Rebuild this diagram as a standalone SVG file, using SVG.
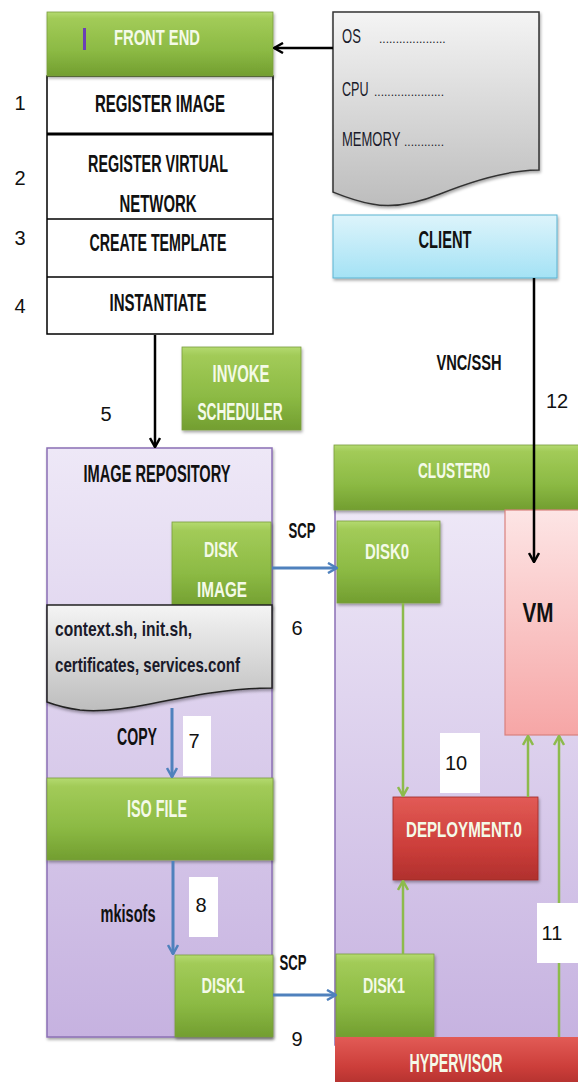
<svg xmlns="http://www.w3.org/2000/svg" width="578" height="1082" viewBox="0 0 578 1082">
  <style>
    .lbl { font-family: "Liberation Sans", Arial, sans-serif; font-weight: bold; text-anchor: middle; fill: #111; }
    .wt { font-family: "Liberation Sans", Arial, sans-serif; font-weight: bold; text-anchor: middle; fill: #F4FAE8; }
    .num { font-family: "Liberation Sans", Arial, sans-serif; font-size: 20px; text-anchor: middle; fill: #111; }
    .doc { font-family: "Liberation Sans", Arial, sans-serif; fill: #1a1a2a; font-size: 21px; }
    .dots { font-family: "Liberation Sans", Arial, sans-serif; fill: #1a1a2a; font-size: 12px; }
    .green { fill: url(#gGreen); stroke: #7A9E3E; stroke-width: 0.8; filter: url(#sh); }
    .red { fill: url(#gRed); stroke: #9E2B28; stroke-width: 0.8; filter: url(#sh); }
    .blk { stroke: #000; stroke-width: 2.5; fill: none; marker-end: url(#aBlack); }
    .blu { stroke: #4F81BD; stroke-width: 3; fill: none; marker-end: url(#aBlue); }
    .grn { stroke: #8DBB4C; stroke-width: 2.5; fill: none; marker-end: url(#aGreen); }
    .tag { fill: #fff; }
  </style>
  <defs>
    <linearGradient id="gGreen" x1="0" y1="0" x2="0" y2="1">
      <stop offset="0" stop-color="#B4DA70"/>
      <stop offset="0.1" stop-color="#A2CB58"/>
      <stop offset="0.6" stop-color="#8CBA44"/>
      <stop offset="1" stop-color="#729E30"/>
    </linearGradient>
    <linearGradient id="gRed" x1="0" y1="0" x2="0" y2="1">
      <stop offset="0" stop-color="#E25B56"/>
      <stop offset="0.6" stop-color="#CC3E3A"/>
      <stop offset="1" stop-color="#B0302D"/>
    </linearGradient>
    <linearGradient id="gPurple" x1="0" y1="0" x2="0" y2="1">
      <stop offset="0" stop-color="#EEE8F7"/>
      <stop offset="1" stop-color="#C6B2E0"/>
    </linearGradient>
    <linearGradient id="gPink" x1="0" y1="0" x2="0" y2="1">
      <stop offset="0" stop-color="#FDE5E5"/>
      <stop offset="1" stop-color="#F6A6A6"/>
    </linearGradient>
    <linearGradient id="gCyan" x1="0" y1="0" x2="0" y2="1">
      <stop offset="0" stop-color="#DDF4FB"/>
      <stop offset="1" stop-color="#A4E2F5"/>
    </linearGradient>
    <linearGradient id="gGrey" x1="0" y1="0" x2="0" y2="1">
      <stop offset="0" stop-color="#F4F4F4"/>
      <stop offset="1" stop-color="#BDBDBD"/>
    </linearGradient>
    <filter id="sh" x="-10%" y="-10%" width="130%" height="140%">
      <feDropShadow dx="1" dy="2" stdDeviation="1.5" flood-opacity="0.35"/>
    </filter>
    <marker id="aBlack" viewBox="0 0 12 12" refX="11" refY="6" markerWidth="12" markerHeight="12" markerUnits="userSpaceOnUse" orient="auto">
      <path d="M2,1 L11,6 L2,11" fill="none" stroke="#000" stroke-width="2.5"/>
    </marker>
    <marker id="aBlue" viewBox="0 0 12 12" refX="11" refY="6" markerWidth="12" markerHeight="12" markerUnits="userSpaceOnUse" orient="auto">
      <path d="M2,1 L11,6 L2,11" fill="none" stroke="#4F81BD" stroke-width="2.5"/>
    </marker>
    <marker id="aGreen" viewBox="0 0 12 12" refX="11" refY="6" markerWidth="12" markerHeight="12" markerUnits="userSpaceOnUse" orient="auto">
      <path d="M2,1 L11,6 L2,11" fill="none" stroke="#8DBB4C" stroke-width="2.5"/>
    </marker>
  </defs>

  <rect width="578" height="1082" fill="#fff"/>

  <!-- front end with its four steps -->
  <g id="front-end">
    <rect x="47" y="76" width="226" height="258" fill="#fff" stroke="#000" stroke-width="1.5"/>
    <line x1="47" y1="134" x2="273" y2="134" stroke="#000" stroke-width="3"/>
    <line x1="47" y1="219" x2="273" y2="219" stroke="#000" stroke-width="1.5"/>
    <line x1="47" y1="277" x2="273" y2="277" stroke="#000" stroke-width="1.5"/>
    <rect class="green" x="47" y="12" width="226" height="64"/>
    <rect x="83" y="28" width="3" height="22" fill="#6B3FB5"/>
    <text class="wt" x="157" y="45" font-size="22" textLength="86" lengthAdjust="spacingAndGlyphs">FRONT END</text>
    <text class="lbl" x="160" y="112" font-size="24" textLength="130" lengthAdjust="spacingAndGlyphs">REGISTER IMAGE</text>
    <text class="lbl" x="158" y="172" font-size="24" textLength="140" lengthAdjust="spacingAndGlyphs">REGISTER VIRTUAL</text>
    <text class="lbl" x="158" y="212" font-size="24" textLength="77" lengthAdjust="spacingAndGlyphs">NETWORK</text>
    <text class="lbl" x="158" y="251" font-size="24" textLength="137" lengthAdjust="spacingAndGlyphs">CREATE TEMPLATE</text>
    <text class="lbl" x="158" y="311" font-size="24" textLength="97" lengthAdjust="spacingAndGlyphs">INSTANTIATE</text>
    <text class="num" x="20" y="110">1</text>
    <text class="num" x="20" y="185">2</text>
    <text class="num" x="20" y="245">3</text>
    <text class="num" x="20" y="313">4</text>
  </g>

  <!-- template document: narrow field names followed by dotted fill-in lines -->
  <g id="template-doc">
    <path d="M333,12 H539 V170 C505,170 470,182 440,194 C415,204 392,208 372,204 C355,201 343,196 333,192 Z" fill="url(#gGrey)" stroke="#333" stroke-width="1.5" filter="url(#sh)"/>
    <text class="doc" transform="translate(342,43) scale(0.62,1)">OS</text>
    <text class="dots" x="379" y="43">....................</text>
    <text class="doc" transform="translate(342,96) scale(0.6,1)">CPU</text>
    <text class="dots" x="374" y="96">.....................</text>
    <text class="doc" transform="translate(342,146) scale(0.62,1)">MEMORY</text>
    <text class="dots" x="404" y="146">............</text>
  </g>

  <!-- client -->
  <g id="client">
    <rect x="333" y="215" width="224" height="63" fill="url(#gCyan)" stroke="#5BB3D2" stroke-width="1" filter="url(#sh)"/>
    <text class="lbl" x="445" y="248" font-size="24" textLength="53" lengthAdjust="spacingAndGlyphs">CLIENT</text>
  </g>

  <!-- scheduler -->
  <g id="invoke-scheduler">
    <rect class="green" x="182" y="347" width="119" height="83"/>
    <text class="wt" x="241" y="382" font-size="24" textLength="57" lengthAdjust="spacingAndGlyphs">INVOKE</text>
    <text class="wt" x="240" y="420" font-size="24" textLength="85" lengthAdjust="spacingAndGlyphs">SCHEDULER</text>
  </g>

  <!-- image repository -->
  <g id="image-repository">
    <rect x="47" y="448" width="225" height="589" fill="url(#gPurple)" stroke="#8B6FB5" stroke-width="1.5" filter="url(#sh)"/>
    <text class="lbl" x="157" y="482" font-size="24" textLength="147" lengthAdjust="spacingAndGlyphs">IMAGE REPOSITORY</text>
  </g>
  <g id="disk-image">
    <rect class="green" x="172" y="522" width="99" height="86"/>
    <text class="wt" x="221" y="557" font-size="22" textLength="34" lengthAdjust="spacingAndGlyphs">DISK</text>
    <text class="wt" x="222" y="597" font-size="22" textLength="50" lengthAdjust="spacingAndGlyphs">IMAGE</text>
  </g>
  <g id="context-files">
    <path d="M47,605 H272 V688 C230,688 190,696 150,704 C125,709 100,712 80,710 C65,708 55,705 47,702 Z" fill="url(#gGrey)" stroke="#222" stroke-width="1.5" filter="url(#sh)"/>
    <text class="doc" x="55" y="636" font-size="22" font-weight="bold" textLength="137" lengthAdjust="spacingAndGlyphs">context.sh, init.sh,</text>
    <text class="doc" x="55" y="672" font-size="22" font-weight="bold" textLength="185" lengthAdjust="spacingAndGlyphs">certificates, services.conf</text>
  </g>
  <g id="iso-file">
    <rect class="green" x="47" y="778" width="226" height="82"/>
    <text class="wt" x="157" y="817" font-size="24" textLength="60" lengthAdjust="spacingAndGlyphs">ISO FILE</text>
  </g>
  <g id="disk1-repo">
    <rect class="green" x="175" y="955" width="98" height="82"/>
    <text class="wt" x="223" y="993" font-size="22" textLength="43" lengthAdjust="spacingAndGlyphs">DISK1</text>
  </g>

  <!-- cluster -->
  <g id="cluster0">
    <rect x="335" y="505" width="250" height="540" fill="url(#gPurple)" stroke="#8B6FB5" stroke-width="1.5"/>
    <rect class="green" x="334" y="445" width="250" height="65"/>
    <text class="wt" x="454" y="478" font-size="22" textLength="72" lengthAdjust="spacingAndGlyphs">CLUSTER0</text>
  </g>
  <g id="vm">
    <rect x="505" y="510" width="80" height="225" fill="url(#gPink)" stroke="#D9807D" stroke-width="1.2"/>
    <text class="lbl" x="538" y="622" font-size="27" textLength="31" lengthAdjust="spacingAndGlyphs">VM</text>
  </g>
  <g id="disk0">
    <rect class="green" x="337" y="521" width="103" height="82"/>
    <text class="wt" x="387" y="559" font-size="22" textLength="44" lengthAdjust="spacingAndGlyphs">DISK0</text>
  </g>
  <g id="deployment">
    <rect class="red" x="393" y="797" width="145" height="83"/>
    <text class="wt" x="464" y="837" font-size="22" textLength="116" lengthAdjust="spacingAndGlyphs">DEPLOYMENT.0</text>
  </g>
  <g id="disk1-host">
    <rect class="green" x="336" y="954" width="98" height="83"/>
    <text class="wt" x="384" y="993" font-size="22" textLength="42" lengthAdjust="spacingAndGlyphs">DISK1</text>
  </g>
  <g id="hypervisor">
    <rect x="335" y="1037" width="250" height="50" fill="url(#gRed)"/>
    <text class="wt" x="456" y="1072" font-size="25" textLength="93" lengthAdjust="spacingAndGlyphs">HYPERVISOR</text>
  </g>

  <!-- connectors -->
  <g id="connectors">
    <line class="blk" x1="333" y1="48" x2="274" y2="48"/>
    <line class="blk" x1="155" y1="335" x2="155" y2="447"/>
    <line class="blk" x1="534" y1="278" x2="534" y2="562"/>
    <line class="blu" x1="272" y1="568" x2="337" y2="568"/>
    <line class="blu" x1="172" y1="708" x2="172" y2="777"/>
    <line class="blu" x1="173" y1="861" x2="173" y2="954"/>
    <line class="blu" x1="273" y1="995" x2="336" y2="995"/>
    <line class="grn" x1="403" y1="603" x2="403" y2="796"/>
    <line class="grn" x1="403" y1="954" x2="403" y2="881"/>
    <line class="grn" x1="528" y1="797" x2="528" y2="736"/>
    <line class="grn" x1="559" y1="1037" x2="559" y2="736"/>
  </g>

  <!-- step numbers and connector labels -->
  <g id="labels">
    <text class="lbl" x="469" y="370" font-size="22" textLength="65" lengthAdjust="spacingAndGlyphs">VNC/SSH</text>
    <text class="num" x="557" y="408">12</text>
    <text class="num" x="106" y="421">5</text>
    <text class="lbl" x="302" y="538" font-size="22" textLength="27" lengthAdjust="spacingAndGlyphs">SCP</text>
    <text class="num" x="297" y="635">6</text>
    <text class="lbl" x="137" y="745" font-size="24" textLength="40" lengthAdjust="spacingAndGlyphs">COPY</text>
    <rect class="tag" x="183" y="716" width="28" height="60"/>
    <text class="num" x="194" y="748">7</text>
    <text class="lbl" x="128" y="922" font-size="23" textLength="55" lengthAdjust="spacingAndGlyphs">mkisofs</text>
    <rect class="tag" x="189" y="877" width="29" height="60"/>
    <text class="num" x="201" y="912">8</text>
    <text class="lbl" x="293" y="970" font-size="22" textLength="27" lengthAdjust="spacingAndGlyphs">SCP</text>
    <text class="num" x="297" y="1046">9</text>
    <rect class="tag" x="440" y="733" width="40" height="60"/>
    <text class="num" x="456" y="770">10</text>
    <rect class="tag" x="537" y="903" width="41" height="60"/>
    <text class="num" x="552" y="940">11</text>
  </g>
</svg>
